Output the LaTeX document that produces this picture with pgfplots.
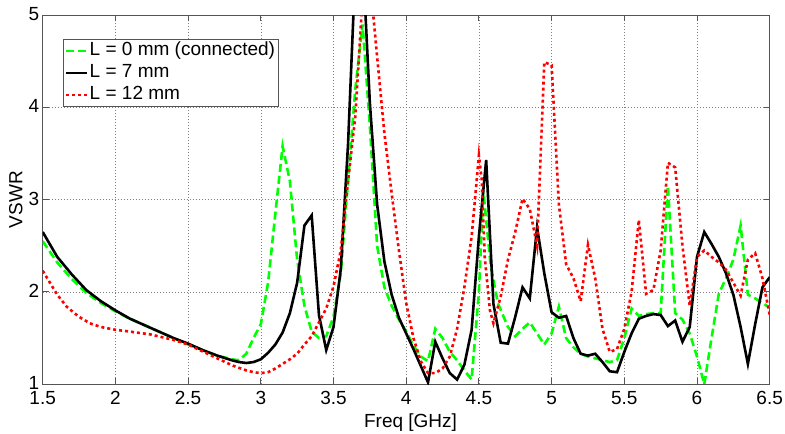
\documentclass[border=0pt]{standalone}
\usepackage{fontspec}
\setmainfont{Liberation Sans}
\usepackage{pgfplots}
\pgfplotsset{compat=1.18}
\definecolor{GRN}{HTML}{00FF00}
\definecolor{RED}{HTML}{FF0000}
\definecolor{FRAME}{HTML}{555555}
\begin{document}
\fontsize{19}{22.8}\selectfont
\begin{tikzpicture}
\begin{axis}[
  scale only axis,
  width=727pt, height=369pt,
  xmin=1.5, xmax=6.5, ymin=1, ymax=5,
  xtick={1.5,2,2.5,3,3.5,4,4.5,5,5.5,6,6.5},
  ytick={1,2,3,4,5},
  /pgf/number format/assume math mode=true,
  grid=major,
  grid style={black!50, line width=0.6pt, dash pattern=on 1pt off 2pt},
  axis line style={FRAME, line width=0.9pt},
  tick style={FRAME, line width=0.9pt},
  tick align=inside, tick pos=both,
  major tick length=6pt,
  xticklabel style={yshift=-1pt},
  yticklabel style={xshift=3pt, yshift=1pt},
  xlabel={Freq [GHz]},
  ylabel={VSWR},
  xlabel style={at={(axis description cs:0.506,0)}, anchor=center, yshift=-38pt},
  ylabel style={at={(axis description cs:-0.037,0.5)}, anchor=center},
  legend cell align=left,
  legend style={at={(axis description cs:0.0275,0.936)}, anchor=north west,
    draw=FRAME, line width=0.9pt, fill=white, inner xsep=2pt, inner ysep=2pt,
    row sep=2.5pt,
    nodes={inner sep=1pt, text height=13.5pt, text depth=4pt}},
  legend image code/.code={\draw[#1] (0pt,0pt) -- (21pt,0pt);},
]
% L = 0 mm (connected)
\addplot[GRN, line width=2.6pt, dash pattern=on 8pt off 4pt] coordinates {
(1.5,2.55)(1.6,2.32)(1.7,2.14)(1.8,1.99)(1.9,1.88)(2.0,1.79)(2.1,1.71)(2.2,1.64)
(2.3,1.57)(2.4,1.50)(2.5,1.43)(2.6,1.37)(2.7,1.31)(2.8,1.27)(2.85,1.26)(2.9,1.33)
(2.95,1.5)(3.0,1.65)(3.05,2.1)(3.1,2.85)(3.15,3.58)(3.2,3.2)(3.25,2.35)(3.3,1.85)
(3.35,1.57)(3.4,1.5)(3.45,1.52)(3.5,1.73)(3.55,2.2)(3.6,3.2)(3.65,4.2)(3.7,4.9)
(3.75,3.8)(3.8,2.5)(3.85,2.05)(3.9,1.85)(3.95,1.7)(4.0,1.57)(4.05,1.42)(4.1,1.3)
(4.15,1.25)(4.2,1.6)(4.25,1.5)(4.3,1.35)(4.35,1.26)(4.4,1.15)(4.45,1.05)(4.5,2.0)
(4.53,3.1)(4.58,2.3)(4.63,1.88)(4.7,1.62)(4.75,1.52)(4.8,1.6)(4.85,1.67)(4.9,1.55)
(4.95,1.43)(5.0,1.55)(5.05,1.84)(5.1,1.5)(5.15,1.4)(5.2,1.33)(5.25,1.3)(5.3,1.28)
(5.35,1.26)(5.4,1.24)(5.45,1.26)(5.5,1.5)(5.55,1.82)(5.6,1.74)(5.65,1.76)(5.7,1.77)
(5.75,1.77)(5.8,3.15)(5.85,1.77)(5.9,1.7)(5.95,1.55)(6.0,1.3)(6.05,1.0)(6.1,1.5)
(6.15,1.98)(6.2,2.15)(6.25,2.35)(6.3,2.72)(6.35,1.97)(6.4,1.93)(6.45,1.88)(6.5,1.83)
};
\addlegendentry{L = 0 mm (connected)}
% L = 7 mm
\addplot[black, line width=2.6pt] coordinates {
(1.5,2.65)(1.6,2.38)(1.7,2.19)(1.8,2.02)(1.9,1.9)(2.0,1.8)(2.1,1.71)(2.2,1.64)
(2.3,1.57)(2.4,1.5)(2.5,1.44)(2.6,1.37)(2.7,1.31)(2.8,1.26)(2.85,1.24)(2.9,1.23)
(2.95,1.24)(3.0,1.27)(3.05,1.34)(3.1,1.43)(3.15,1.56)(3.2,1.77)(3.25,2.1)(3.3,2.72)
(3.35,2.83)(3.4,1.75)(3.45,1.37)(3.5,1.62)(3.55,2.25)(3.6,3.6)(3.65,5.5)(3.7,5.64)
(3.75,4.05)(3.8,2.95)(3.85,2.33)(3.9,1.97)(3.95,1.72)(4.0,1.55)(4.05,1.38)(4.1,1.2)
(4.15,1.02)(4.2,1.46)(4.25,1.28)(4.3,1.12)(4.35,1.05)(4.4,1.21)(4.45,1.59)(4.5,2.6)
(4.55,3.43)(4.6,1.87)(4.65,1.45)(4.7,1.44)(4.75,1.73)(4.8,2.05)(4.85,1.93)(4.9,2.7)
(4.95,2.2)(5.0,1.78)(5.05,1.72)(5.1,1.74)(5.15,1.5)(5.2,1.33)(5.25,1.31)(5.3,1.33)
(5.35,1.24)(5.4,1.14)(5.45,1.13)(5.5,1.35)(5.55,1.55)(5.6,1.71)(5.65,1.74)(5.7,1.76)
(5.75,1.75)(5.8,1.63)(5.85,1.69)(5.9,1.46)(5.95,1.62)(6.0,2.38)(6.05,2.65)(6.1,2.52)
(6.15,2.38)(6.2,2.2)(6.25,1.97)(6.3,1.62)(6.35,1.22)(6.4,1.65)(6.45,2.05)(6.5,2.16)
};
\addlegendentry{L = 7 mm}
% L = 12 mm
\addplot[RED, line width=2.6pt, dash pattern=on 3pt off 3pt] coordinates {
(1.5,2.23)(1.6,1.97)(1.665,1.84)(1.75,1.73)(1.825,1.66)(1.9,1.62)(2.0,1.59)(2.1,1.57)
(2.24,1.54)(2.4,1.48)(2.5,1.43)(2.58,1.37)(2.7,1.28)(2.81,1.2)(2.9,1.15)(2.95,1.13)
(3.0,1.12)(3.05,1.13)(3.1,1.17)(3.15,1.22)(3.2,1.27)(3.25,1.33)(3.3,1.43)(3.35,1.52)
(3.4,1.67)(3.45,1.82)(3.5,2.06)(3.55,2.45)(3.6,3.2)(3.65,3.9)(3.7,5.2)(3.75,5.4)
(3.8,4.55)(3.85,3.72)(3.9,3.07)(3.95,2.45)(4.0,1.88)(4.05,1.5)(4.1,1.25)(4.15,1.12)
(4.2,1.12)(4.25,1.17)(4.3,1.3)(4.35,1.6)(4.4,2.05)(4.45,2.6)(4.5,3.48)(4.52,3.21)
(4.54,2.38)(4.576,1.8)(4.6,1.66)(4.65,1.95)(4.7,2.35)(4.75,2.65)(4.8,3.01)(4.85,2.9)
(4.9,2.5)(4.95,4.49)(5.0,4.46)(5.05,2.95)(5.1,2.3)(5.15,2.15)(5.2,1.9)(5.25,2.51)
(5.3,2.15)(5.35,1.6)(5.4,1.35)(5.45,1.38)(5.5,1.6)(5.55,2.0)(5.6,2.78)(5.65,1.98)
(5.7,2.02)(5.75,2.45)(5.8,3.4)(5.85,3.35)(5.9,2.5)(5.95,1.85)(6.0,2.38)(6.05,2.45)
(6.1,2.38)(6.15,2.32)(6.2,2.24)(6.25,2.1)(6.3,1.96)(6.35,2.35)(6.4,2.42)(6.45,2.15)
(6.5,1.75)
};
\addlegendentry{L = 12 mm}
\end{axis}
\pgfresetboundingbox
\path[use as bounding box] (-42.7pt,-49pt) rectangle (742.3pt,384.2pt);
\end{tikzpicture}
\end{document}
